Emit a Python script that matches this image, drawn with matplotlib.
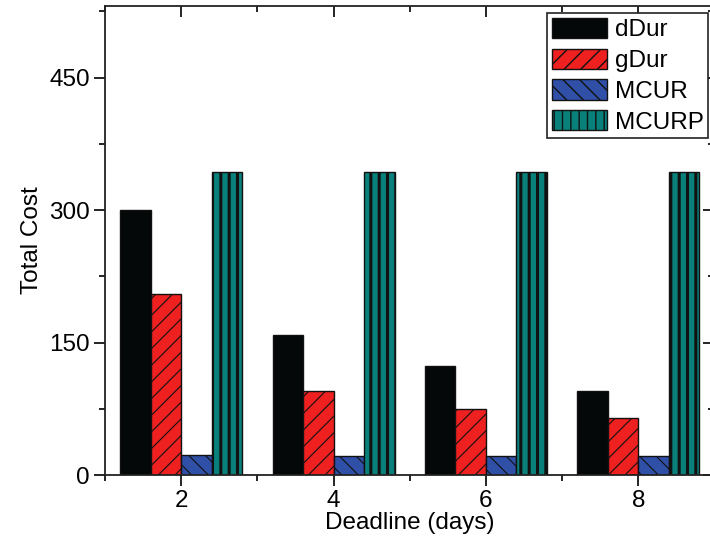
import matplotlib
matplotlib.use("Agg")
import matplotlib.pyplot as plt
from matplotlib.ticker import MultipleLocator
import numpy as np

plt.rcParams['font.family'] = ['Liberation Sans', 'DejaVu Sans']

deadlines = [2, 4, 6, 8]
series_names = ["dDur", "gDur", "MCUR", "MCURP"]
dDur = [300, 159, 123, 95]
gDur = [205, 95, 75, 65]
MCUR = [23, 22, 22, 22]
MCURP = [343, 343, 343, 343]

colors = ["#050808", "#ee2020", "#3050a8", "#0a807a"]
hatches = [None, "//", "\\\\", "||"]
hatch_lw = [0.8, 0.8, 0.8, 2.2]

FS = 17.5

fig = plt.figure(figsize=(7.10, 5.39), dpi=100)
ax = fig.add_axes([105/710, 1-475/539, (714.5-105)/710, (475-6)/539])

w = 0.4
x = np.array(deadlines, dtype=float)
offsets = [-1.5*w, -0.5*w, 0.5*w, 1.5*w]
for vals, name, c, h, hl, off in zip([dDur, gDur, MCUR, MCURP], series_names, colors, hatches, hatch_lw, offsets):
    with plt.rc_context({'hatch.linewidth': hl, 'hatch.color': '#111111'}):
        bars = ax.bar(x + off, vals, width=w, color=c, edgecolor='#111111',
                      linewidth=1.0, hatch=h, label=name)
        for b in bars:
            if hasattr(b, 'set_hatch_linewidth'):
                b.set_hatch_linewidth(hl)

ax.set_xlim(1, 9)
ax.set_ylim(0, 531)
ax.set_xticks(deadlines)
ax.xaxis.set_minor_locator(MultipleLocator(1))
ax.set_yticks([0, 150, 300, 450])
ax.yaxis.set_minor_locator(MultipleLocator(75))

ax.tick_params(axis='both', which='major', direction='out', length=8, width=1.2,
               labelsize=FS, pad=3)
ax.tick_params(axis='both', which='minor', direction='out', length=4, width=1.2)
ax.tick_params(top=True, right=True, which='both')
# top/right ticks inward
for t in ax.xaxis.get_major_ticks() + ax.xaxis.get_minor_ticks():
    t.tick2line.set_marker(matplotlib.lines.TICKDOWN)
for t in ax.yaxis.get_major_ticks() + ax.yaxis.get_minor_ticks():
    t.tick2line.set_marker(matplotlib.lines.TICKLEFT)

for s in ax.spines.values():
    s.set_linewidth(1.3)
    s.set_color('#222222')

ax.set_xlabel("Deadline (days)", fontsize=FS, labelpad=0)
ax.set_ylabel("Total Cost", fontsize=FS, labelpad=4)

leg = ax.legend(loc='upper right', bbox_to_anchor=((708.5-105)/(714.5-105), (475-13)/(475-6)),
                fontsize=FS, handlelength=2.3, handleheight=0.9, labelspacing=0.3,
                handletextpad=0.3, borderpad=0.2, borderaxespad=0, fancybox=False,
                framealpha=1, edgecolor='#222222')
leg.get_frame().set_linewidth(1.2)

fig.savefig("out.png", dpi=100)
